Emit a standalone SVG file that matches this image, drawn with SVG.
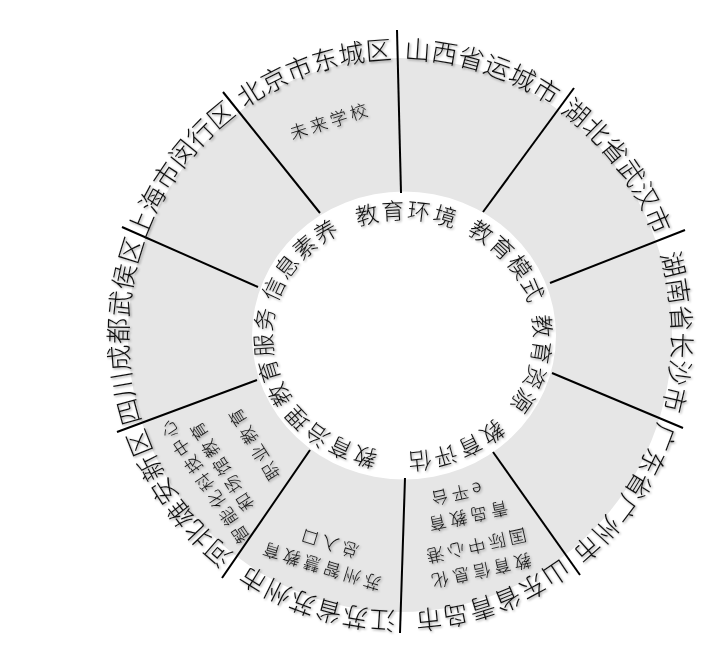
<svg xmlns="http://www.w3.org/2000/svg" width="717" height="646" viewBox="0 0 717 646">
<style>
  text { font-family: "Noto Sans CJK SC", "Noto Sans", sans-serif; fill: #111; font-weight: 300; }
  .o { font-size: 26px; letter-spacing: 1.5px; }
  .i { font-size: 23px; letter-spacing: 3.5px; }
  .s { font-size: 17.5px; letter-spacing: 3.5px; }
  .dv { stroke: #000; stroke-width: 2; stroke-linecap: butt; }
</style>
<defs>
  <filter id="sh" x="-10%" y="-10%" width="120%" height="120%">
    <feDropShadow dx="1.2" dy="1.2" stdDeviation="0.8" flood-color="#000" flood-opacity="0.4"/>
  </filter>
  <path id="po1" d="M147.0 204.2 A284 288 0 0 1 528.9 78.4"/>
  <path id="po2" d="M268.9 79.5 A284 288 0 0 1 651.9 202.0"/>
  <path id="po3" d="M437.1 49.5 A284 288 0 0 1 681.6 372.6"/>
  <path id="po4" d="M599.1 129.6 A284 288 0 0 1 602.6 536.9"/>
  <path id="po5" d="M679.7 285.0 A284 288 0 0 1 449.3 618.6"/>
  <path id="po6" d="M656.3 459.0 A284 288 0 0 1 277.7 594.9"/>
  <path id="po7" d="M531.1 590.5 A284 288 0 0 1 148.1 468.0"/>
  <path id="po8" d="M355.6 619.5 A284 288 0 0 1 119.5 290.0"/>
  <path id="po9" d="M195.7 535.1 A284 288 0 0 1 202.7 127.8"/>
  <path id="po10" d="M118.8 375.1 A284 288 0 0 1 360.5 49.8"/>
  <path id="pi1" d="M316.2 235.9 A141 127 0 0 1 497.3 241.6"/>
  <path id="pi2" d="M441.9 213.9 A141 127 0 0 1 543.2 349.3"/>
  <path id="pi3" d="M527.5 276.4 A141 127 0 0 1 489.8 436.1"/>
  <path id="pi4" d="M529.1 392.9 A141 127 0 0 1 362.7 457.7"/>
  <path id="pi5" d="M417.7 462.3 A141 127 0 0 1 267.5 371.0"/>
  <path id="pi6" d="M310.5 431.8 A141 127 0 0 1 282.1 270.6"/>
  <path id="pi7" d="M262.0 338.2 A141 127 0 0 1 376.1 211.3"/>
</defs>
<rect width="717" height="646" fill="#fff"/>
<path id="ring" d="M128 335 A272 277 0 1 0 672 335 A272 277 0 1 0 128 335 Z M252 335.5 A152 144 0 1 1 556 335.5 A152 144 0 1 1 252 335.5 Z" fill="#e6e6e6" fill-rule="evenodd"/>
<g id="connectors">
  <line class="dv" x1="397" y1="30" x2="401" y2="193"/>
  <line class="dv" x1="574" y1="88" x2="483" y2="212"/>
  <line class="dv" x1="685" y1="230" x2="550" y2="283"/>
  <line class="dv" x1="683" y1="428" x2="552" y2="373"/>
  <line class="dv" x1="580" y1="575" x2="493" y2="452"/>
  <line class="dv" x1="400" y1="633" x2="405" y2="478"/>
  <line class="dv" x1="222" y1="578" x2="310" y2="450"/>
  <line class="dv" x1="117" y1="432" x2="257" y2="380"/>
  <line class="dv" x1="122" y1="227" x2="258" y2="287"/>
  <line class="dv" x1="223" y1="92" x2="320" y2="213"/>
</g>
<g id="labels" filter="url(#sh)">
  <g id="beijing">
    <text class="o" text-anchor="middle" dominant-baseline="central"><textPath href="#po1" startOffset="50%" dominant-baseline="central">北京市东城区</textPath></text>
    <text class="s" text-anchor="middle" dominant-baseline="central" transform="translate(330 120) rotate(-18)">未来学校</text>
  </g>
  <g id="shanxi">
    <text class="o" text-anchor="middle" dominant-baseline="central"><textPath href="#po2" startOffset="50%" dominant-baseline="central">山西省运城市</textPath></text>
  </g>
  <g id="hubei">
    <text class="o" text-anchor="middle" dominant-baseline="central"><textPath href="#po3" startOffset="50%" dominant-baseline="central">湖北省武汉市</textPath></text>
  </g>
  <g id="hunan">
    <text class="o" text-anchor="middle" dominant-baseline="central"><textPath href="#po4" startOffset="50%" dominant-baseline="central">湖南省长沙市</textPath></text>
  </g>
  <g id="guangdong">
    <text class="o" text-anchor="middle" dominant-baseline="central"><textPath href="#po5" startOffset="50%" dominant-baseline="central">广东省广州市</textPath></text>
  </g>
  <g id="shandong">
    <text class="o" text-anchor="middle" dominant-baseline="central"><textPath href="#po6" startOffset="50%" dominant-baseline="central">山东省青岛市</textPath></text>
    <text class="s" text-anchor="middle" dominant-baseline="central" transform="translate(480 572) rotate(167.5)">教育信息化</text>
    <text class="s" text-anchor="middle" dominant-baseline="central" transform="translate(475 547) rotate(167.5)">国际中心港</text>
    <text class="s" text-anchor="middle" dominant-baseline="central" transform="translate(467 517.5) rotate(167.5)">青岛教育</text>
    <text class="s" text-anchor="middle" dominant-baseline="central" transform="translate(455 495) rotate(167.5)">e平台</text>
  </g>
  <g id="jiangsu">
    <text class="o" text-anchor="middle" dominant-baseline="central"><textPath href="#po7" startOffset="50%" dominant-baseline="central">江苏省苏州市</textPath></text>
    <text class="s" text-anchor="middle" dominant-baseline="central" transform="translate(320 567) rotate(197)">苏州智慧教育</text>
    <text class="s" text-anchor="middle" dominant-baseline="central" transform="translate(328 544) rotate(197)">总入口</text>
  </g>
  <g id="hebei">
    <text class="o" text-anchor="middle" dominant-baseline="central"><textPath href="#po8" startOffset="50%" dominant-baseline="central">河北雄安新区</textPath></text>
    <text class="s" text-anchor="middle" dominant-baseline="central" transform="translate(203 481) rotate(236)">智能化科技中心</text>
    <text class="s" text-anchor="middle" dominant-baseline="central" transform="translate(220 465.5) rotate(237)">和场馆教育</text>
    <text class="s" text-anchor="middle" dominant-baseline="central" transform="translate(252.5 443.3) rotate(238)">职业教育</text>
  </g>
  <g id="sichuan">
    <text class="o" text-anchor="middle" dominant-baseline="central"><textPath href="#po9" startOffset="50%" dominant-baseline="central">四川成都武侯区</textPath></text>
  </g>
  <g id="shanghai">
    <text class="o" text-anchor="middle" dominant-baseline="central"><textPath href="#po10" startOffset="50%" dominant-baseline="central">上海市闵行区</textPath></text>
  </g>
  <g id="inner-env">
    <text class="i" text-anchor="middle" dominant-baseline="central"><textPath href="#pi1" startOffset="50%" dominant-baseline="central">教育环境</textPath></text>
  </g>
  <g id="inner-mode">
    <text class="i" text-anchor="middle" dominant-baseline="central"><textPath href="#pi2" startOffset="46%" dominant-baseline="central">教育模式</textPath></text>
  </g>
  <g id="inner-resource">
    <text class="i" text-anchor="middle" dominant-baseline="central"><textPath href="#pi3" startOffset="52%" dominant-baseline="central">教育资源</textPath></text>
  </g>
  <g id="inner-eval">
    <text class="i" text-anchor="middle" dominant-baseline="central"><textPath href="#pi4" startOffset="50%" dominant-baseline="central">教育评估</textPath></text>
  </g>
  <g id="inner-gov">
    <text class="i" text-anchor="middle" dominant-baseline="central"><textPath href="#pi5" startOffset="50%" dominant-baseline="central">教育治理</textPath></text>
  </g>
  <g id="inner-service">
    <text class="i" text-anchor="middle" dominant-baseline="central"><textPath href="#pi6" startOffset="50%" dominant-baseline="central">教育服务</textPath></text>
  </g>
  <g id="inner-literacy">
    <text class="i" text-anchor="middle" dominant-baseline="central"><textPath href="#pi7" startOffset="50%" dominant-baseline="central">信息素养</textPath></text>
  </g>
</g>
</svg>
